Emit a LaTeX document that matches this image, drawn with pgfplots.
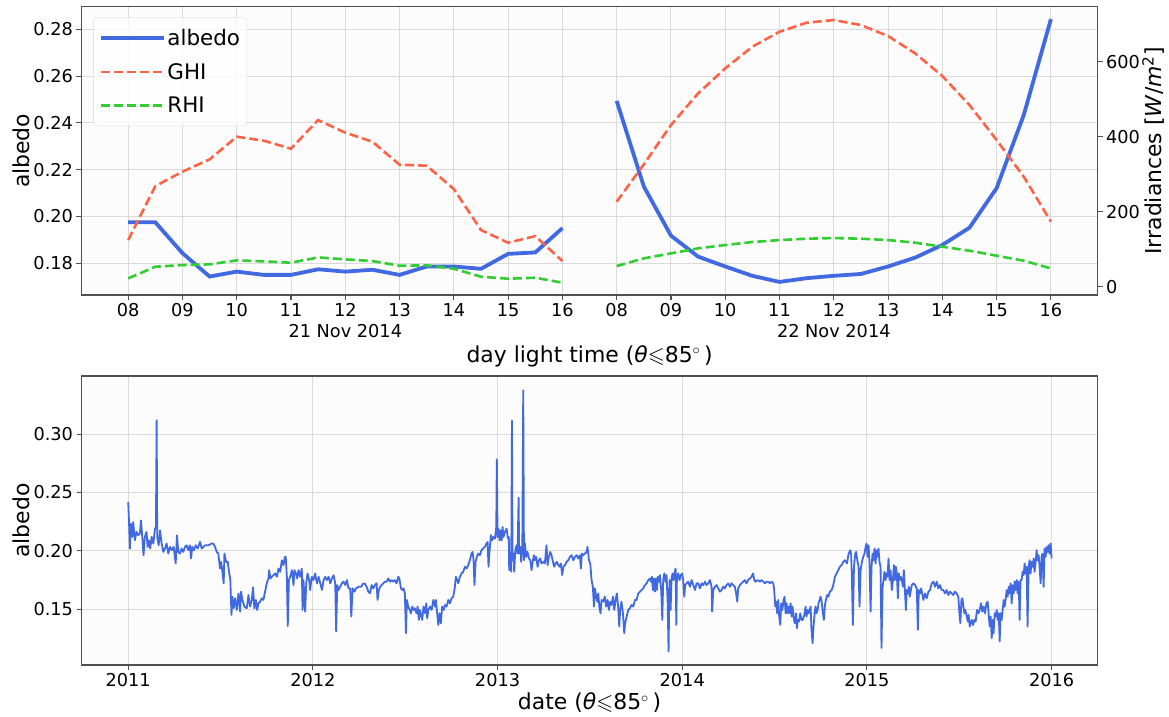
\documentclass[border=0pt]{standalone}
\usepackage{fontspec}
\setmainfont{DejaVu Sans}
\usepackage{amssymb}
\usepackage{pgfplots}
\pgfplotsset{compat=1.18}
\definecolor{royalblue}{RGB}{65,105,225}
\definecolor{tomato}{RGB}{255,99,71}
\definecolor{limegreen}{RGB}{50,205,50}
\definecolor{gridgray}{RGB}{218,218,218}
\definecolor{framegray}{RGB}{80,80,80}

\pgfplotsset{
  panel/.style={
    scale only axis, width=1016.1bp,
    axis line style={framegray, line width=1.1bp},
    tick style={framegray, line width=1.1bp},
    major tick length=5bp,
    tick align=outside,
    tick label style={font=\fontsize{17.8}{20.5}\selectfont},
    label style={font=\fontsize{22}{26}\selectfont},
    grid style={gridgray, line width=1bp},
  },
  irr/.style={line width=2.6bp, dash pattern=on 9bp off 4bp},
}

\begin{document}
\begin{tikzpicture}
\useasboundingbox (0,0) rectangle (1169bp,-717bp);

% top panel, left axis: albedo
\begin{axis}[panel, at={(81.5bp,-295bp)}, anchor=south west, height=288.3bp,
  axis background/.style={fill=black!1},
  xmin=7.14, xmax=25.86, ymin=0.1664, ymax=0.2897,
  xtick={8,9,10,11,12,13,14,15,16,17,18,19,20,21,22,23,24,25},
  xticklabels={08,09,10,11,{12\\21 Nov 2014},13,14,15,16,08,09,10,11,{12\\22 Nov 2014},13,14,15,16},
  xticklabel style={align=center},
  ytick={0.18,0.20,0.22,0.24,0.26,0.28},
  yticklabels={0.18,0.20,0.22,0.24,0.26,0.28},
  xtick pos=left, ytick pos=left,
  xmajorgrids, ymajorgrids,
  xlabel={day light time (\textit{θ}$\leqslant$85$^\circ$\,)},
  ylabel={albedo},
  xlabel style={at={(axis description cs:0.5,-0.2116)}, anchor=center},
  ylabel style={at={(axis description cs:-0.0595,0.5)}, anchor=center},
]
\addplot[royalblue, line width=3.8bp] coordinates {
(8,0.1975) (8.5,0.1975) (9,0.1843) (9.5,0.1743) (10,0.1764) (10.5,0.1750)
(11,0.1750) (11.5,0.1774) (12,0.1764) (12.5,0.1772) (13,0.1750) (13.5,0.1786)
(14,0.1786) (14.5,0.1776) (15,0.1840) (15.5,0.1846) (16,0.1950)};
\addplot[royalblue, line width=3.8bp] coordinates {
(17,0.2494) (17.5,0.2128) (18,0.1918) (18.5,0.1828) (19,0.1786) (19.5,0.1746)
(20,0.1720) (20.5,0.1736) (21,0.1746) (21.5,0.1754) (22,0.1786) (22.5,0.1824)
(23,0.1878) (23.5,0.1952) (24,0.2121) (24.5,0.2434) (25,0.2844)};
\end{axis}

% top panel, right axis: irradiances
\begin{axis}[panel, at={(81.5bp,-295bp)}, anchor=south west, height=288.3bp,
  xmin=7.14, xmax=25.86, ymin=-22.1, ymax=746.7,
  hide x axis, axis y line*=right,
  ytick={0,200,400,600}, yticklabels={0,200,400,600},
  ylabel={Irradiances [\textit{W}/\textit{m}\textsuperscript{2}]},
  ylabel style={at={(axis description cs:1.0546,0.5)}, anchor=center},
  legend style={at={(0.0118,0.9618)}, anchor=north west,
    font=\fontsize{21.5}{25}\selectfont, draw=black!15, rounded corners=3bp,
    fill=white, fill opacity=0.8, text opacity=1,
    inner xsep=5bp, inner ysep=9.5bp, row sep=12.2bp},
  legend cell align=left,
  legend image code/.code={\draw[#1] (0bp,0bp) -- (50bp,0bp); \path (0bp,0bp) -- (63bp,0bp);},
]
\addlegendimage{royalblue, line width=3.8bp}
\addlegendentry{albedo}
\addplot[tomato, irr] coordinates {
(8,124.4) (8.5,268.4) (9,306.7) (9.5,339.6) (10,400.0) (10.5,389.3)
(11,368.0) (11.5,444.4) (12,410.7) (12.5,386.7) (13,325.3) (13.5,322.7)
(14,260.4) (14.5,151.1) (15,117.3) (15.5,135.1) (16,68.4)};
\addlegendentry{GHI}
\addplot[limegreen, irr] coordinates {
(8,22.2) (8.5,53.3) (9,57.8) (9.5,59.6) (10,70.2) (10.5,67.6)
(11,64.0) (11.5,78.2) (12,72.9) (12.5,68.4) (13,56.0) (13.5,56.9)
(14,48.0) (14.5,26.7) (15,21.3) (15.5,24.0) (16,10.7)};
\addlegendentry{RHI}
\addplot[tomato, irr, forget plot] coordinates {
(17,226.7) (17.5,326.2) (18,431.1) (18.5,515.6) (19,582.2) (19.5,640.0)
(20,680.0) (20.5,704.0) (21,711.1) (21.5,697.8) (22,668.4) (22.5,622.2)
(23,561.8) (23.5,484.4) (24,391.1) (24.5,293.3) (25,173.3)};
\addplot[limegreen, irr, forget plot] coordinates {
(17,55.1) (17.5,75.6) (18,88.9) (18.5,102.2) (19,111.1) (19.5,119.1)
(20,124.4) (20.5,128.0) (21,129.8) (21.5,128.0) (22,124.4) (22.5,117.3)
(23,106.7) (23.5,96.0) (24,82.7) (24.5,69.3) (25,48.9)};
\end{axis}

% bottom panel: daily albedo 2011-2016
\begin{axis}[panel, at={(81.5bp,-665bp)}, anchor=south west, height=289bp,
  axis background/.style={fill=black!1},
  xmin=2010.747, xmax=2016.249, ymin=0.1023, ymax=0.3497,
  xtick={2011,2012,2013,2014,2015,2016},
  xticklabels={2011,2012,2013,2014,2015,2016},
  ytick={0.15,0.20,0.25,0.30}, yticklabels={0.15,0.20,0.25,0.30},
  xtick pos=left, ytick pos=left,
  xmajorgrids, ymajorgrids,
  xlabel={date (\textit{θ}$\leqslant$85$^\circ$\,)},
  ylabel={albedo},
  xlabel style={at={(axis description cs:0.5,-0.1315)}, anchor=center},
  ylabel style={at={(axis description cs:-0.0595,0.5)}, anchor=center},
]
\addplot[royalblue, line width=1.8bp, line join=round] coordinates {
(2011.000,0.2418) (2011.004,0.2261) (2011.009,0.2020) (2011.014,0.2233) (2011.022,0.2119)
(2011.027,0.2247) (2011.036,0.2091) (2011.045,0.2162) (2011.054,0.2134) (2011.063,0.2148)
(2011.069,0.2261) (2011.076,0.2119) (2011.083,0.1963) (2011.090,0.2119) (2011.099,0.2162)
(2011.105,0.2034) (2011.112,0.2091) (2011.119,0.2020) (2011.127,0.2119) (2011.136,0.2063)
(2011.145,0.2190) (2011.150,0.2205) (2011.154,0.3119) (2011.157,0.2119) (2011.165,0.2048)
(2011.172,0.2176) (2011.181,0.2063) (2011.190,0.1991) (2011.199,0.2020) (2011.208,0.2063)
(2011.217,0.1977) (2011.226,0.2034) (2011.235,0.2006) (2011.246,0.2034) (2011.257,0.1892)
(2011.264,0.2134) (2011.271,0.1991) (2011.280,0.1977) (2011.289,0.2020) (2011.298,0.1991)
(2011.307,0.2034) (2011.316,0.2048) (2011.325,0.2006) (2011.334,0.2048) (2011.340,0.1935)
(2011.347,0.2034) (2011.356,0.2006) (2011.365,0.2048) (2011.376,0.2020) (2011.389,0.2077)
(2011.398,0.2020) (2011.407,0.2034) (2011.416,0.2048) (2011.434,0.2048) (2011.452,0.2063)
(2011.461,0.2063) (2011.470,0.2034) (2011.479,0.1991) (2011.488,0.1977) (2011.497,0.1849)
(2011.503,0.1906) (2011.510,0.1821) (2011.517,0.1722) (2011.521,0.1977) (2011.530,0.1906)
(2011.539,0.1906) (2011.546,0.1821) (2011.553,0.1750) (2011.559,0.1452) (2011.564,0.1608)
(2011.571,0.1509) (2011.579,0.1594) (2011.588,0.1494) (2011.597,0.1636) (2011.606,0.1480)
(2011.611,0.1651) (2011.618,0.1580) (2011.629,0.1523) (2011.642,0.1509) (2011.651,0.1622)
(2011.660,0.1523) (2011.669,0.1580) (2011.676,0.1688) (2011.683,0.1509) (2011.691,0.1580)
(2011.698,0.1494) (2011.705,0.1551) (2011.714,0.1565) (2011.723,0.1594) (2011.732,0.1580)
(2011.741,0.1651) (2011.750,0.1722) (2011.759,0.1764) (2011.763,0.1835) (2011.770,0.1764)
(2011.777,0.1778) (2011.786,0.1792) (2011.796,0.1807) (2011.805,0.1778) (2011.814,0.1849)
(2011.823,0.1821) (2011.832,0.1920) (2011.841,0.1878) (2011.848,0.1949) (2011.853,0.1949)
(2011.859,0.1778) (2011.864,0.1358) (2011.870,0.1750) (2011.877,0.1778) (2011.886,0.1835)
(2011.895,0.1707) (2011.900,0.1835) (2011.908,0.1807) (2011.915,0.1764) (2011.922,0.1835)
(2011.931,0.1778) (2011.940,0.1849) (2011.944,0.1494) (2011.949,0.1750) (2011.958,0.1480)
(2011.964,0.1722) (2011.971,0.1807) (2011.980,0.1750) (2011.985,0.1665) (2011.994,0.1778)
(2012.003,0.1750) (2012.012,0.1807) (2012.022,0.1722) (2012.031,0.1778) (2012.040,0.1722)
(2012.049,0.1665) (2012.058,0.1750) (2012.067,0.1778) (2012.076,0.1750) (2012.085,0.1778)
(2012.094,0.1722) (2012.103,0.1764) (2012.112,0.1792) (2012.121,0.1722) (2012.126,0.1310)
(2012.132,0.1707) (2012.139,0.1665) (2012.148,0.1693) (2012.157,0.1722) (2012.166,0.1736)
(2012.175,0.1707) (2012.184,0.1750) (2012.193,0.1679) (2012.202,0.1679) (2012.208,0.1438)
(2012.215,0.1679) (2012.226,0.1651) (2012.233,0.1679) (2012.248,0.1693) (2012.262,0.1693)
(2012.269,0.1716) (2012.280,0.1722)
(2012.291,0.1693) (2012.300,0.1651) (2012.309,0.1636) (2012.318,0.1707) (2012.327,0.1679)
(2012.336,0.1707) (2012.345,0.1722) (2012.350,0.1580) (2012.357,0.1665) (2012.365,0.1693)
(2012.372,0.1707) (2012.381,0.1722) (2012.390,0.1736) (2012.399,0.1736) (2012.408,0.1764)
(2012.417,0.1736) (2012.426,0.1750) (2012.435,0.1736) (2012.444,0.1750) (2012.453,0.1722)
(2012.462,0.1778) (2012.468,0.1764) (2012.477,0.1679) (2012.484,0.1665) (2012.491,0.1679)
(2012.498,0.1636) (2012.504,0.1295) (2012.509,0.1580) (2012.516,0.1523) (2012.525,0.1494)
(2012.531,0.1466) (2012.538,0.1523) (2012.545,0.1494) (2012.552,0.1509) (2012.561,0.1466)
(2012.567,0.1523) (2012.574,0.1409) (2012.579,0.1494) (2012.585,0.1452) (2012.592,0.1409)
(2012.599,0.1523) (2012.607,0.1466) (2012.614,0.1551) (2012.619,0.1423) (2012.625,0.1494)
(2012.634,0.1523) (2012.643,0.1494) (2012.652,0.1580) (2012.661,0.1523) (2012.666,0.1580)
(2012.673,0.1466) (2012.679,0.1366) (2012.686,0.1466) (2012.693,0.1381) (2012.700,0.1523)
(2012.708,0.1494) (2012.715,0.1537) (2012.724,0.1523) (2012.733,0.1580) (2012.742,0.1551)
(2012.751,0.1594) (2012.760,0.1608) (2012.769,0.1693) (2012.774,0.1778) (2012.782,0.1750)
(2012.787,0.1722) (2012.796,0.1778) (2012.805,0.1807) (2012.814,0.1821) (2012.823,0.1864)
(2012.832,0.1849) (2012.841,0.1878) (2012.850,0.1920) (2012.859,0.1977) (2012.865,0.1991)
(2012.870,0.1920) (2012.875,0.1707) (2012.881,0.1906) (2012.888,0.1949) (2012.895,0.1977)
(2012.904,0.1963) (2012.913,0.2006) (2012.922,0.2020) (2012.931,0.2034) (2012.940,0.2063)
(2012.946,0.2077) (2012.951,0.1864) (2012.957,0.2006) (2012.964,0.2134) (2012.971,0.2091)
(2012.978,0.2119) (2012.986,0.2105) (2012.993,0.2205) (2012.996,0.2784) (2013.000,0.2119)
(2013.005,0.2190) (2013.011,0.2091) (2013.016,0.2176) (2013.022,0.2091) (2013.027,0.2205)
(2013.032,0.2119) (2013.040,0.2162) (2013.049,0.2190) (2013.056,0.2105) (2013.061,0.2119)
(2013.063,0.1835) (2013.069,0.1977) (2013.074,0.1821) (2013.078,0.3114) (2013.081,0.1920)
(2013.087,0.1977) (2013.090,0.1821) (2013.096,0.2006) (2013.103,0.2048) (2013.108,0.1977)
(2013.114,0.2455) (2013.117,0.1977) (2013.123,0.2034) (2013.128,0.1906) (2013.134,0.2006)
(2013.139,0.3375) (2013.143,0.1920) (2013.148,0.2063) (2013.155,0.1949) (2013.162,0.1991)
(2013.170,0.1935) (2013.177,0.1920) (2013.184,0.1835) (2013.190,0.1906) (2013.197,0.1963)
(2013.202,0.1920) (2013.209,0.1949) (2013.217,0.1864) (2013.224,0.1920) (2013.231,0.1935)
(2013.238,0.1892) (2013.247,0.1906) (2013.256,0.1892) (2013.265,0.2048) (2013.271,0.1878)
(2013.278,0.1949) (2013.285,0.1991) (2013.292,0.1963) (2013.300,0.1906) (2013.307,0.1864)
(2013.314,0.1892) (2013.321,0.1906) (2013.329,0.1878) (2013.336,0.1864) (2013.343,0.1892)
(2013.350,0.1793) (2013.357,0.1864) (2013.365,0.1878) (2013.374,0.1906) (2013.383,0.1920)
(2013.392,0.1949) (2013.401,0.1963) (2013.410,0.1920) (2013.419,0.1949) (2013.428,0.1963)
(2013.437,0.1935) (2013.446,0.1963) (2013.451,0.1849) (2013.457,0.1977) (2013.464,0.1963)
(2013.473,0.1977) (2013.482,0.1991) (2013.487,0.2034) (2013.495,0.1920) (2013.502,0.1892)
(2013.509,0.1750) (2013.516,0.1693) (2013.522,0.1523) (2013.527,0.1679) (2013.534,0.1608)
(2013.540,0.1565) (2013.545,0.1636) (2013.552,0.1509) (2013.558,0.1466) (2013.563,0.1580)
(2013.572,0.1565) (2013.581,0.1608)
(2013.588,0.1523) (2013.596,0.1580) (2013.603,0.1494) (2013.610,0.1565) (2013.617,0.1537)
(2013.625,0.1608) (2013.632,0.1494) (2013.639,0.1580) (2013.646,0.1636) (2013.653,0.1523)
(2013.659,0.1352) (2013.664,0.1494) (2013.671,0.1565) (2013.679,0.1466) (2013.686,0.1295)
(2013.691,0.1381) (2013.699,0.1438) (2013.708,0.1494) (2013.717,0.1509) (2013.726,0.1537)
(2013.735,0.1523) (2013.744,0.1580) (2013.753,0.1580) (2013.762,0.1636) (2013.771,0.1651)
(2013.780,0.1665) (2013.789,0.1679) (2013.798,0.1707) (2013.807,0.1722) (2013.816,0.1750)
(2013.825,0.1764) (2013.830,0.1736) (2013.836,0.1778) (2013.841,0.1665) (2013.847,0.1764)
(2013.852,0.1651) (2013.857,0.1764) (2013.863,0.1665) (2013.868,0.1778) (2013.874,0.1736)
(2013.879,0.1793) (2013.886,0.1665) (2013.892,0.1409) (2013.897,0.1750) (2013.903,0.1807)
(2013.910,0.1736) (2013.915,0.1793) (2013.921,0.1565) (2013.926,0.1139) (2013.931,0.1750)
(2013.937,0.1494) (2013.942,0.1764) (2013.948,0.1807) (2013.953,0.1750) (2013.958,0.1807)
(2013.964,0.1849) (2013.968,0.1366) (2013.971,0.1750) (2013.978,0.1807) (2013.986,0.1750)
(2013.993,0.1793) (2014.000,0.1807) (2014.005,0.1750) (2014.011,0.1608) (2014.016,0.1707)
(2014.023,0.1722) (2014.032,0.1736) (2014.042,0.1693) (2014.051,0.1750) (2014.060,0.1707)
(2014.069,0.1665) (2014.078,0.1722) (2014.087,0.1722) (2014.096,0.1679) (2014.105,0.1722)
(2014.114,0.1707) (2014.123,0.1736) (2014.132,0.1707) (2014.141,0.1722) (2014.150,0.1750)
(2014.159,0.1693) (2014.162,0.1480) (2014.168,0.1665) (2014.177,0.1693) (2014.186,0.1707)
(2014.195,0.1679) (2014.204,0.1651) (2014.213,0.1665) (2014.222,0.1693) (2014.231,0.1679)
(2014.240,0.1707) (2014.249,0.1722) (2014.258,0.1693) (2014.267,0.1722) (2014.276,0.1707)
(2014.285,0.1693) (2014.292,0.1636) (2014.298,0.1565) (2014.303,0.1679) (2014.312,0.1707)
(2014.321,0.1722) (2014.330,0.1736) (2014.339,0.1750) (2014.348,0.1722) (2014.357,0.1750)
(2014.366,0.1764) (2014.375,0.1778) (2014.384,0.1807) (2014.390,0.1750) (2014.397,0.1736)
(2014.408,0.1750) (2014.421,0.1736) (2014.430,0.1750) (2014.439,0.1736) (2014.448,0.1722)
(2014.457,0.1736) (2014.466,0.1736) (2014.475,0.1722) (2014.484,0.1736) (2014.493,0.1722)
(2014.498,0.1665) (2014.504,0.1523) (2014.509,0.1565) (2014.514,0.1466) (2014.520,0.1580)
(2014.525,0.1438) (2014.531,0.1366) (2014.536,0.1551) (2014.542,0.1494) (2014.549,0.1580)
(2014.554,0.1608) (2014.560,0.1466) (2014.565,0.1551) (2014.570,0.1466) (2014.576,0.1523)
(2014.581,0.1466) (2014.587,0.1551) (2014.592,0.1438) (2014.597,0.1523) (2014.605,0.1409)
(2014.610,0.1381) (2014.616,0.1466) (2014.621,0.1338) (2014.626,0.1409) (2014.632,0.1395)
(2014.639,0.1466) (2014.646,0.1409) (2014.653,0.1409) (2014.661,0.1452) (2014.668,0.1523)
(2014.673,0.1438) (2014.679,0.1494) (2014.684,0.1466) (2014.690,0.1494) (2014.695,0.1523)
(2014.700,0.1324) (2014.706,0.1210) (2014.711,0.1352) (2014.717,0.1466) (2014.722,0.1523)
(2014.727,0.1466) (2014.733,0.1494) (2014.738,0.1551) (2014.744,0.1580) (2014.749,0.1608)
(2014.754,0.1580) (2014.762,0.1466) (2014.767,0.1409) (2014.773,0.1537) (2014.778,0.1580)
(2014.785,0.1622) (2014.791,0.1608) (2014.800,0.1651) (2014.809,0.1665) (2014.818,0.1707)
(2014.827,0.1778) (2014.836,0.1807) (2014.845,0.1835) (2014.854,0.1864) (2014.863,0.1878)
(2014.872,0.1906) (2014.881,0.1920)
(2014.892,0.1892) (2014.901,0.1977) (2014.910,0.2006) (2014.915,0.1963) (2014.919,0.1750)
(2014.924,0.1366) (2014.930,0.1864) (2014.937,0.1977) (2014.942,0.1991) (2014.948,0.1920)
(2014.955,0.1864) (2014.960,0.1523) (2014.966,0.1835) (2014.973,0.1906) (2014.980,0.1949)
(2014.987,0.1977) (2014.993,0.2034) (2014.998,0.2063) (2015.004,0.1949) (2015.009,0.2048)
(2015.014,0.1906) (2015.020,0.1480) (2015.025,0.1864) (2015.031,0.1977) (2015.036,0.1920)
(2015.041,0.2020) (2015.047,0.1892) (2015.052,0.2006) (2015.058,0.1949) (2015.063,0.2020)
(2015.068,0.1906) (2015.074,0.1864) (2015.079,0.1168) (2015.085,0.1693) (2015.090,0.1750)
(2015.095,0.1821) (2015.101,0.1750) (2015.106,0.1807) (2015.112,0.1778) (2015.117,0.1935)
(2015.123,0.1750) (2015.128,0.1835) (2015.135,0.1665) (2015.141,0.1750) (2015.146,0.1878)
(2015.151,0.1750) (2015.157,0.1864) (2015.162,0.1807) (2015.168,0.1594) (2015.173,0.1807)
(2015.178,0.1750) (2015.184,0.1778) (2015.189,0.1750) (2015.195,0.1693) (2015.200,0.1835)
(2015.205,0.1693) (2015.211,0.1494) (2015.216,0.1665) (2015.222,0.1636) (2015.227,0.1693)
(2015.232,0.1608) (2015.238,0.1665) (2015.243,0.1707) (2015.252,0.1722) (2015.261,0.1707)
(2015.270,0.1679) (2015.276,0.1324) (2015.281,0.1665) (2015.288,0.1636) (2015.294,0.1679)
(2015.299,0.1636) (2015.306,0.1580) (2015.315,0.1636) (2015.324,0.1594) (2015.333,0.1651)
(2015.342,0.1665) (2015.351,0.1722) (2015.360,0.1736) (2015.369,0.1693) (2015.378,0.1736)
(2015.387,0.1679) (2015.396,0.1707) (2015.405,0.1665) (2015.414,0.1665) (2015.423,0.1636)
(2015.432,0.1665) (2015.441,0.1622) (2015.450,0.1651) (2015.459,0.1636) (2015.468,0.1622)
(2015.477,0.1651) (2015.486,0.1636) (2015.495,0.1608) (2015.501,0.1466) (2015.506,0.1381)
(2015.512,0.1580) (2015.517,0.1594) (2015.523,0.1523) (2015.528,0.1466) (2015.533,0.1494)
(2015.541,0.1438) (2015.546,0.1395) (2015.551,0.1452) (2015.557,0.1352) (2015.562,0.1381)
(2015.568,0.1409) (2015.575,0.1366) (2015.582,0.1409) (2015.589,0.1395) (2015.596,0.1494)
(2015.604,0.1466) (2015.611,0.1494) (2015.618,0.1551) (2015.625,0.1480) (2015.632,0.1523)
(2015.640,0.1466) (2015.647,0.1551) (2015.654,0.1565) (2015.659,0.1466) (2015.665,0.1352)
(2015.670,0.1438) (2015.676,0.1253) (2015.681,0.1409) (2015.686,0.1295) (2015.692,0.1466)
(2015.697,0.1438) (2015.703,0.1494) (2015.708,0.1409) (2015.714,0.1466) (2015.719,0.1224)
(2015.724,0.1466) (2015.730,0.1409) (2015.735,0.1494) (2015.741,0.1580) (2015.746,0.1523)
(2015.751,0.1580) (2015.757,0.1665) (2015.762,0.1608) (2015.768,0.1693) (2015.773,0.1636)
(2015.778,0.1722) (2015.784,0.1551) (2015.789,0.1707) (2015.795,0.1636) (2015.800,0.1736)
(2015.805,0.1665) (2015.811,0.1750) (2015.816,0.1636) (2015.822,0.1736) (2015.827,0.1409)
(2015.832,0.1750) (2015.838,0.1750) (2015.843,0.1821) (2015.849,0.1793) (2015.854,0.1892)
(2015.859,0.1807) (2015.865,0.1864) (2015.870,0.1352) (2015.876,0.1864) (2015.881,0.1920)
(2015.886,0.1807) (2015.892,0.1906) (2015.897,0.1864) (2015.903,0.1935) (2015.908,0.1821)
(2015.914,0.1906) (2015.919,0.2006) (2015.924,0.1920) (2015.930,0.1963) (2015.935,0.1864)
(2015.941,0.1722) (2015.946,0.1949) (2015.951,0.1977) (2015.957,0.1693) (2015.962,0.2020)
(2015.968,0.1949) (2015.973,0.2034) (2015.978,0.1991) (2015.984,0.2048) (2015.989,0.1977)
(2015.995,0.2063) (2016.000,0.1935)};
\end{axis}
\end{tikzpicture}
\end{document}
